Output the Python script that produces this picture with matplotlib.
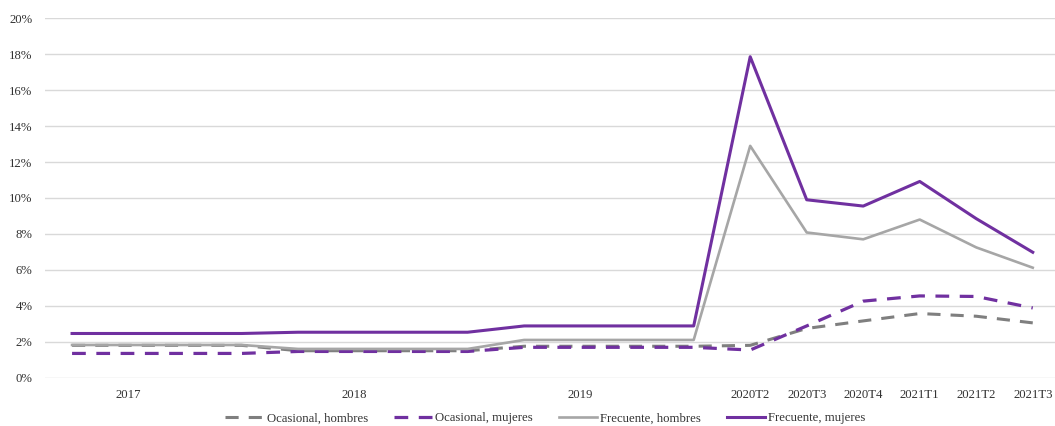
import matplotlib
matplotlib.use("Agg")
import matplotlib.pyplot as plt
import numpy as np
from matplotlib.ticker import FuncFormatter

plt.rcParams['font.family'] = ['Liberation Serif', 'DejaVu Serif']

categories = ['', '2017', '', '', '', '2018', '', '', '', '2019', '', '',
              '2020T2', '2020T3', '2020T4', '2021T1', '2021T2', '2021T3']

ocasional_hombres = [1.80, 1.80, 1.80, 1.80, 1.50, 1.50, 1.50, 1.50, 1.75, 1.75, 1.75, 1.75,
                     1.80, 2.74, 3.16, 3.57, 3.42, 3.05]
ocasional_mujeres = [1.35, 1.35, 1.35, 1.35, 1.46, 1.46, 1.46, 1.46, 1.69, 1.69, 1.69, 1.69,
                     1.54, 2.88, 4.26, 4.55, 4.52, 3.88]
frecuente_hombres = [1.82, 1.82, 1.82, 1.82, 1.60, 1.60, 1.60, 1.60, 2.10, 2.10, 2.10, 2.10,
                     12.90, 8.08, 7.70, 8.80, 7.25, 6.12]
frecuente_mujeres = [2.46, 2.46, 2.46, 2.46, 2.53, 2.53, 2.53, 2.53, 2.88, 2.88, 2.88, 2.88,
                     17.86, 9.90, 9.55, 10.92, 8.85, 6.98]

series_names = ['Ocasional, hombres', 'Ocasional, mujeres', 'Frecuente, hombres', 'Frecuente, mujeres']

fig = plt.figure(figsize=(10.55, 4.26), dpi=100)
ax = fig.add_axes([0.0427, 0.1134, 0.963, 0.8437])

x = np.arange(len(categories))
purple = '#7030A0'
ax.plot(x, np.array(ocasional_hombres) / 100, color='#7F7F7F', lw=2.2, dashes=(4.3, 3.3),
        label=series_names[0])
ax.plot(x, np.array(ocasional_mujeres) / 100, color=purple, lw=2.3, dashes=(4.3, 3.3),
        label=series_names[1])
ax.plot(x, np.array(frecuente_hombres) / 100, color='#A6A6A6', lw=1.9,
        label=series_names[2])
ax.plot(x, np.array(frecuente_mujeres) / 100, color=purple, lw=2.2,
        label=series_names[3])

ax.set_xlim(-0.478, 17.5)
ax.set_ylim(0, 0.20)
ax.set_yticks(np.arange(0, 0.201, 0.02))
ax.yaxis.set_major_formatter(FuncFormatter(lambda v, p: f'{v*100:.0f}%'))
ax.set_xticks(x)
ax.set_xticklabels(categories)
ax.tick_params(axis='both', length=0, labelsize=9.2, colors='#333333')
ax.tick_params(axis='y', pad=9)
ax.tick_params(axis='x', pad=8)
ax.grid(axis='y', color='#D9D9D9', lw=1.0)
ax.set_axisbelow(True)
for s in ax.spines.values():
    s.set_visible(False)

leg = fig.legend(loc='center', bbox_to_anchor=(0.517, 0.018), ncol=4, frameon=False,
                 fontsize=9.2, handlelength=3.0, columnspacing=2.0, handletextpad=0.25)
for t in leg.get_texts():
    t.set_color('#333333')

fig.savefig('out.png', dpi=100)
